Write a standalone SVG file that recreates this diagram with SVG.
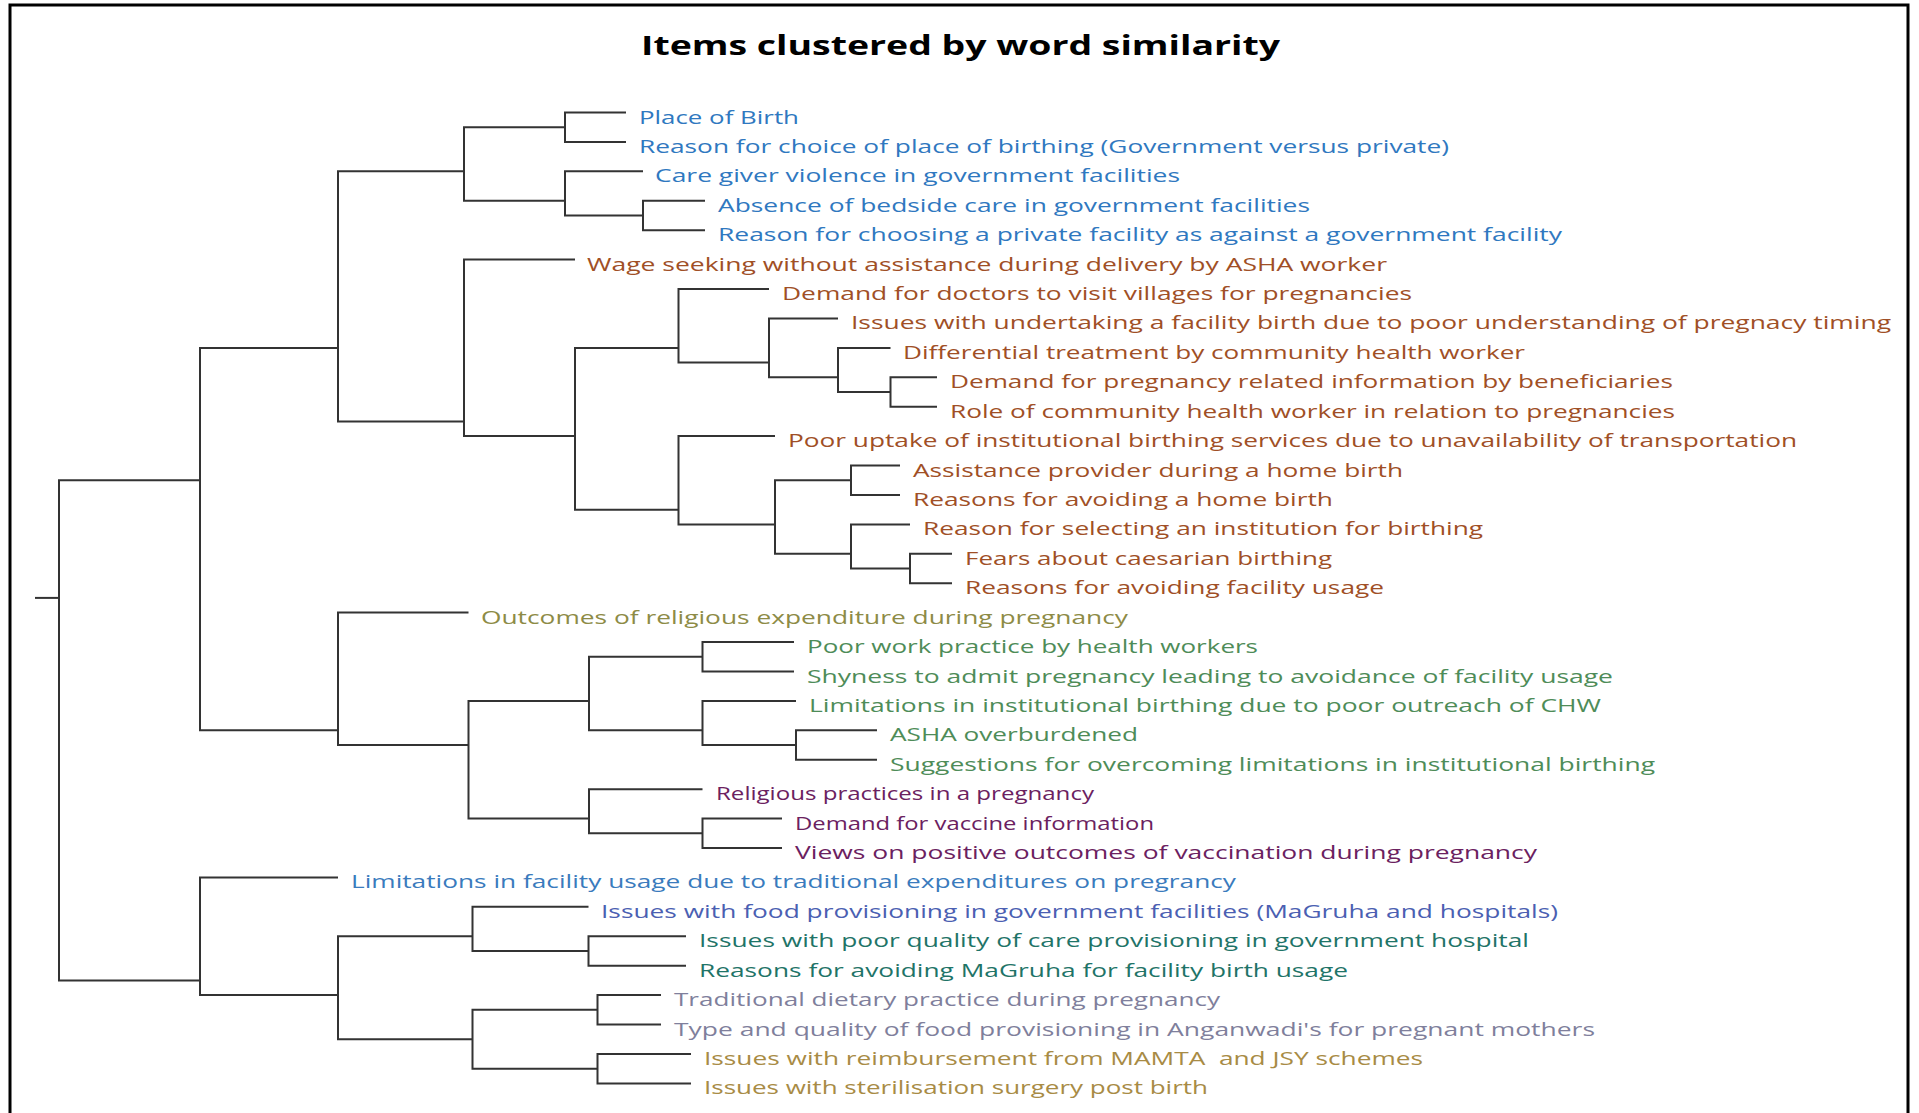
<svg xmlns="http://www.w3.org/2000/svg" width="1919" height="1113" viewBox="0 0 1919 1113">
<style>
.lbl{font-family:"Open Sans","Noto Sans","Liberation Sans",sans-serif;font-size:19px;}
.title{font-family:"Open Sans","Noto Sans","Liberation Sans",sans-serif;font-size:26px;font-weight:bold;fill:#000;}
.c1{fill:#2f78c0}.c2{fill:#a04f26}.c3{fill:#8d8b46}.c4{fill:#4e8c58}.c5{fill:#6b2160}
.c6{fill:#3a7bbd}.c7{fill:#4b5fb2}.c8{fill:#1f7468}.c9{fill:#7f7f9c}.c10{fill:#a88b45}
.ln{fill:none;stroke:#333;stroke-width:2;}
</style>
<rect width="1919" height="1113" fill="#fff"/>
<path d="M10,1113 V5 H1908 V1113" fill="none" stroke="#000" stroke-width="3"/>
<text class="title" x="641" y="55" textLength="639" lengthAdjust="spacingAndGlyphs">Items clustered by word similarity</text>
<g id="connectors" class="ln">
<path d="M35,597.9 H59"/>
<path d="M200,480.3 H59 V980.4 H200"/>
<path d="M338,347.9 H200 V730.3 H338"/>
<path d="M338,877.4 H200 V995.1 H338"/>
<path d="M464,171.3 H338 V421.4 H464"/>
<path d="M468.5,612.6 H338 V745 H468.5"/>
<path d="M472.5,936.3 H338 V1039.2 H472.5"/>
<path d="M565,127.2 H464 V200.8 H565"/>
<path d="M575,259.6 H464 V436.1 H575"/>
<path d="M626,112.5 H565 V141.9 H626"/>
<path d="M643,171.3 H565 V215.5 H643"/>
<path d="M705,200.8 H643 V230.2 H705"/>
<path d="M678.5,347.9 H575 V509.7 H678.5"/>
<path d="M769,289 H678.5 V362.6 H769"/>
<path d="M838,318.4 H769 V377.3 H838"/>
<path d="M890.5,347.9 H838 V392 H890.5"/>
<path d="M937,377.3 H890.5 V406.7 H937"/>
<path d="M775,436.1 H678.5 V524.4 H775"/>
<path d="M851,480.3 H775 V553.8 H851"/>
<path d="M900,465.5 H851 V495 H900"/>
<path d="M910,524.4 H851 V568.5 H910"/>
<path d="M952,553.8 H910 V583.2 H952"/>
<path d="M589,700.9 H468.5 V818.6 H589"/>
<path d="M702.5,656.8 H589 V730.3 H702.5"/>
<path d="M794,642.1 H702.5 V671.5 H794"/>
<path d="M796,700.9 H702.5 V745 H796"/>
<path d="M877,730.3 H796 V759.7 H877"/>
<path d="M702.5,789.2 H589 V833.3 H702.5"/>
<path d="M782,818.6 H702.5 V848 H782"/>
<path d="M588.5,906.8 H472.5 V951 H588.5"/>
<path d="M686,936.3 H588.5 V965.7 H686"/>
<path d="M597.5,1009.8 H472.5 V1068.7 H597.5"/>
<path d="M661,995.1 H597.5 V1024.5 H661"/>
<path d="M691,1053.9 H597.5 V1083.4 H691"/>
</g>
<g class="lbl" lengthAdjust="spacingAndGlyphs">
<g id="leaf-0"><text class="c1" x="639" y="123.5" textLength="160" lengthAdjust="spacingAndGlyphs">Place of Birth</text></g>
<g id="leaf-1"><text class="c1" x="639" y="152.9" textLength="810" lengthAdjust="spacingAndGlyphs">Reason for choice of place of birthing (Government versus private)</text></g>
<g id="leaf-2"><text class="c1" x="655" y="182.3" textLength="525" lengthAdjust="spacingAndGlyphs">Care giver violence in government facilities</text></g>
<g id="leaf-3"><text class="c1" x="718" y="211.8" textLength="592" lengthAdjust="spacingAndGlyphs">Absence of bedside care in government facilities</text></g>
<g id="leaf-4"><text class="c1" x="718" y="241.2" textLength="844" lengthAdjust="spacingAndGlyphs">Reason for choosing a private facility as against a government facility</text></g>
<g id="leaf-5"><text class="c2" x="587" y="270.6" textLength="800" lengthAdjust="spacingAndGlyphs">Wage seeking without assistance during delivery by ASHA worker</text></g>
<g id="leaf-6"><text class="c2" x="782" y="300" textLength="630" lengthAdjust="spacingAndGlyphs">Demand for doctors to visit villages for pregnancies</text></g>
<g id="leaf-7"><text class="c2" x="851" y="329.4" textLength="1040" lengthAdjust="spacingAndGlyphs">Issues with undertaking a facility birth due to poor understanding of pregnacy timing</text></g>
<g id="leaf-8"><text class="c2" x="903" y="358.9" textLength="622" lengthAdjust="spacingAndGlyphs">Differential treatment by community health worker</text></g>
<g id="leaf-9"><text class="c2" x="950" y="388.3" textLength="723" lengthAdjust="spacingAndGlyphs">Demand for pregnancy related information by beneficiaries</text></g>
<g id="leaf-10"><text class="c2" x="950" y="417.7" textLength="725" lengthAdjust="spacingAndGlyphs">Role of community health worker in relation to pregnancies</text></g>
<g id="leaf-11"><text class="c2" x="788" y="447.1" textLength="1009" lengthAdjust="spacingAndGlyphs">Poor uptake of institutional birthing services due to unavailability of transportation</text></g>
<g id="leaf-12"><text class="c2" x="913" y="476.5" textLength="490" lengthAdjust="spacingAndGlyphs">Assistance provider during a home birth</text></g>
<g id="leaf-13"><text class="c2" x="913" y="506" textLength="420" lengthAdjust="spacingAndGlyphs">Reasons for avoiding a home birth</text></g>
<g id="leaf-14"><text class="c2" x="923" y="535.4" textLength="560" lengthAdjust="spacingAndGlyphs">Reason for selecting an institution for birthing</text></g>
<g id="leaf-15"><text class="c2" x="965" y="564.8" textLength="367" lengthAdjust="spacingAndGlyphs">Fears about caesarian birthing</text></g>
<g id="leaf-16"><text class="c2" x="965" y="594.2" textLength="419" lengthAdjust="spacingAndGlyphs">Reasons for avoiding facility usage</text></g>
<g id="leaf-17"><text class="c3" x="481" y="623.6" textLength="647" lengthAdjust="spacingAndGlyphs">Outcomes of religious expenditure during pregnancy</text></g>
<g id="leaf-18"><text class="c4" x="807" y="653.1" textLength="451" lengthAdjust="spacingAndGlyphs">Poor work practice by health workers</text></g>
<g id="leaf-19"><text class="c4" x="807" y="682.5" textLength="806" lengthAdjust="spacingAndGlyphs">Shyness to admit pregnancy leading to avoidance of facility usage</text></g>
<g id="leaf-20"><text class="c4" x="809" y="711.9" textLength="792" lengthAdjust="spacingAndGlyphs">Limitations in institutional birthing due to poor outreach of CHW</text></g>
<g id="leaf-21"><text class="c4" x="890" y="741.3" textLength="248" lengthAdjust="spacingAndGlyphs">ASHA overburdened</text></g>
<g id="leaf-22"><text class="c4" x="890" y="770.7" textLength="765" lengthAdjust="spacingAndGlyphs">Suggestions for overcoming limitations in institutional birthing</text></g>
<g id="leaf-23"><text class="c5" x="716" y="800.2" textLength="378" lengthAdjust="spacingAndGlyphs">Religious practices in a pregnancy</text></g>
<g id="leaf-24"><text class="c5" x="795" y="829.6" textLength="359" lengthAdjust="spacingAndGlyphs">Demand for vaccine information</text></g>
<g id="leaf-25"><text class="c5" x="795" y="859" textLength="742" lengthAdjust="spacingAndGlyphs">Views on positive outcomes of vaccination during pregnancy</text></g>
<g id="leaf-26"><text class="c6" x="351" y="888.4" textLength="885" lengthAdjust="spacingAndGlyphs">Limitations in facility usage due to traditional expenditures on pregrancy</text></g>
<g id="leaf-27"><text class="c7" x="601" y="917.8" textLength="957" lengthAdjust="spacingAndGlyphs">Issues with food provisioning in government facilities (MaGruha and hospitals)</text></g>
<g id="leaf-28"><text class="c8" x="699" y="947.3" textLength="830" lengthAdjust="spacingAndGlyphs">Issues with poor quality of care provisioning in government hospital</text></g>
<g id="leaf-29"><text class="c8" x="699" y="976.7" textLength="649" lengthAdjust="spacingAndGlyphs">Reasons for avoiding MaGruha for facility birth usage</text></g>
<g id="leaf-30"><text class="c9" x="674" y="1006.1" textLength="546" lengthAdjust="spacingAndGlyphs">Traditional dietary practice during pregnancy</text></g>
<g id="leaf-31"><text class="c9" x="674" y="1035.5" textLength="921" lengthAdjust="spacingAndGlyphs">Type and quality of food provisioning in Anganwadi's for pregnant mothers</text></g>
<g id="leaf-32"><text class="c10" x="704" y="1064.9" textLength="719" lengthAdjust="spacingAndGlyphs" xml:space="preserve">Issues with reimbursement from MAMTA  and JSY schemes</text></g>
<g id="leaf-33"><text class="c10" x="704" y="1094.4" textLength="504" lengthAdjust="spacingAndGlyphs">Issues with sterilisation surgery post birth</text></g>
</g>
</svg>
